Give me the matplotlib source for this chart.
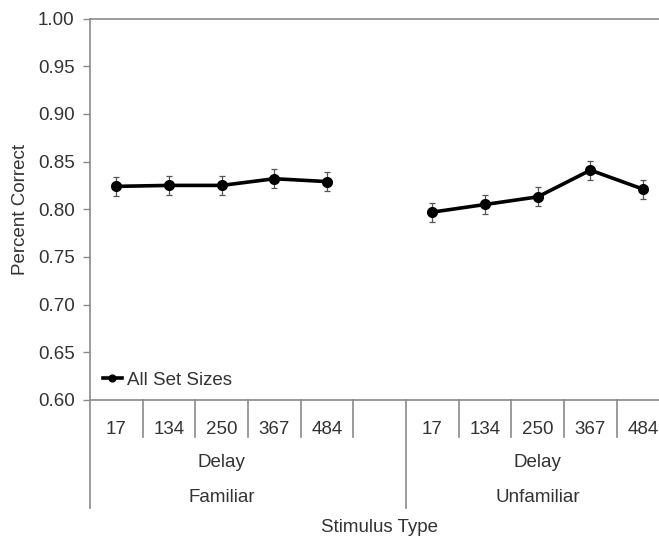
import matplotlib
matplotlib.use("Agg")
import matplotlib.pyplot as plt

plt.rcParams['font.family'] = ['Liberation Sans', 'DejaVu Sans']

# delays (ms) within each stimulus group
delays = ["17", "134", "250", "367", "484"]
groups = ["Familiar", "Unfamiliar"]

familiar = [0.824, 0.825, 0.825, 0.832, 0.829]
unfamiliar = [0.797, 0.805, 0.813, 0.841, 0.821]
familiar_err = [0.010, 0.010, 0.010, 0.010, 0.010]
unfamiliar_err = [0.010, 0.010, 0.010, 0.010, 0.010]

AX_COL = "#8a8a8a"
TXT_COL = "#333333"
FS = 13.5

fig = plt.figure(figsize=(6.59, 5.39), dpi=100)
ax = fig.add_axes([90 / 659, 139 / 539, 579.5 / 659, 381.5 / 539])

# slot 5 is left empty between the two groups
x_fam = list(range(0, 5))
x_unf = list(range(6, 11))

for xs, ys, es, lab in [(x_fam, familiar, familiar_err, "All Set Sizes"),
                        (x_unf, unfamiliar, unfamiliar_err, None)]:
    ax.errorbar(xs, ys, yerr=es, fmt="none", ecolor="#555555",
                elinewidth=0.9, capsize=2.2, capthick=0.9, zorder=2)
    ax.plot(xs, ys, color="black", lw=2.6, marker="o", ms=7,
            label=lab, zorder=3)

ax.set_xlim(-0.5, 10.5)
ax.set_ylim(0.60, 1.00)
ax.set_yticks([0.60 + 0.05 * i for i in range(9)])
ax.set_yticklabels(["%.2f" % (0.60 + 0.05 * i) for i in range(9)])

ax.set_xticks(x_fam + [5] + x_unf)
ax.set_xticklabels(delays + [""] + delays)
ax.tick_params(axis="x", length=0, pad=15, labelsize=FS, labelcolor=TXT_COL)
ax.tick_params(axis="y", length=5, width=1, color=AX_COL, pad=6,
               labelsize=FS, labelcolor=TXT_COL)

for side in ["left", "bottom", "top"]:
    ax.spines[side].set_color(AX_COL)
    ax.spines[side].set_linewidth(1.2)
ax.spines["right"].set_visible(False)

# multi-level category axis below the plot
trans = ax.get_xaxis_transform()
for b in [0.5, 1.5, 2.5, 3.5, 4.5, 6.5, 7.5, 8.5, 9.5]:
    ax.plot([b, b], [0, -0.097], color=AX_COL, lw=1.2, transform=trans,
            clip_on=False)
for b in [-0.5, 5.5]:
    ax.plot([b, b], [0, -0.283], color=AX_COL, lw=1.2, transform=trans,
            clip_on=False)

for cx, g in zip([2.0, 8.0], groups):
    ax.text(cx, -0.164, "Delay", transform=trans, ha="center", va="center",
            fontsize=FS, color=TXT_COL)
    ax.text(cx, -0.256, g, transform=trans, ha="center", va="center",
            fontsize=FS, color=TXT_COL)

ax.text(5.0, -0.335, "Stimulus Type", transform=trans, ha="center",
        va="center", fontsize=FS, color=TXT_COL)

ax.set_ylabel("Percent Correct", fontsize=FS, color=TXT_COL)
ax.yaxis.set_label_coords(-0.105, 0.5)

ax.legend(loc="lower left", bbox_to_anchor=(0.0, -0.005), frameon=False,
          handlelength=1.0, handletextpad=0.25, borderaxespad=0.3,
          fontsize=FS, labelcolor=TXT_COL, markerscale=0.7)

fig.savefig("out.png", dpi=100)
